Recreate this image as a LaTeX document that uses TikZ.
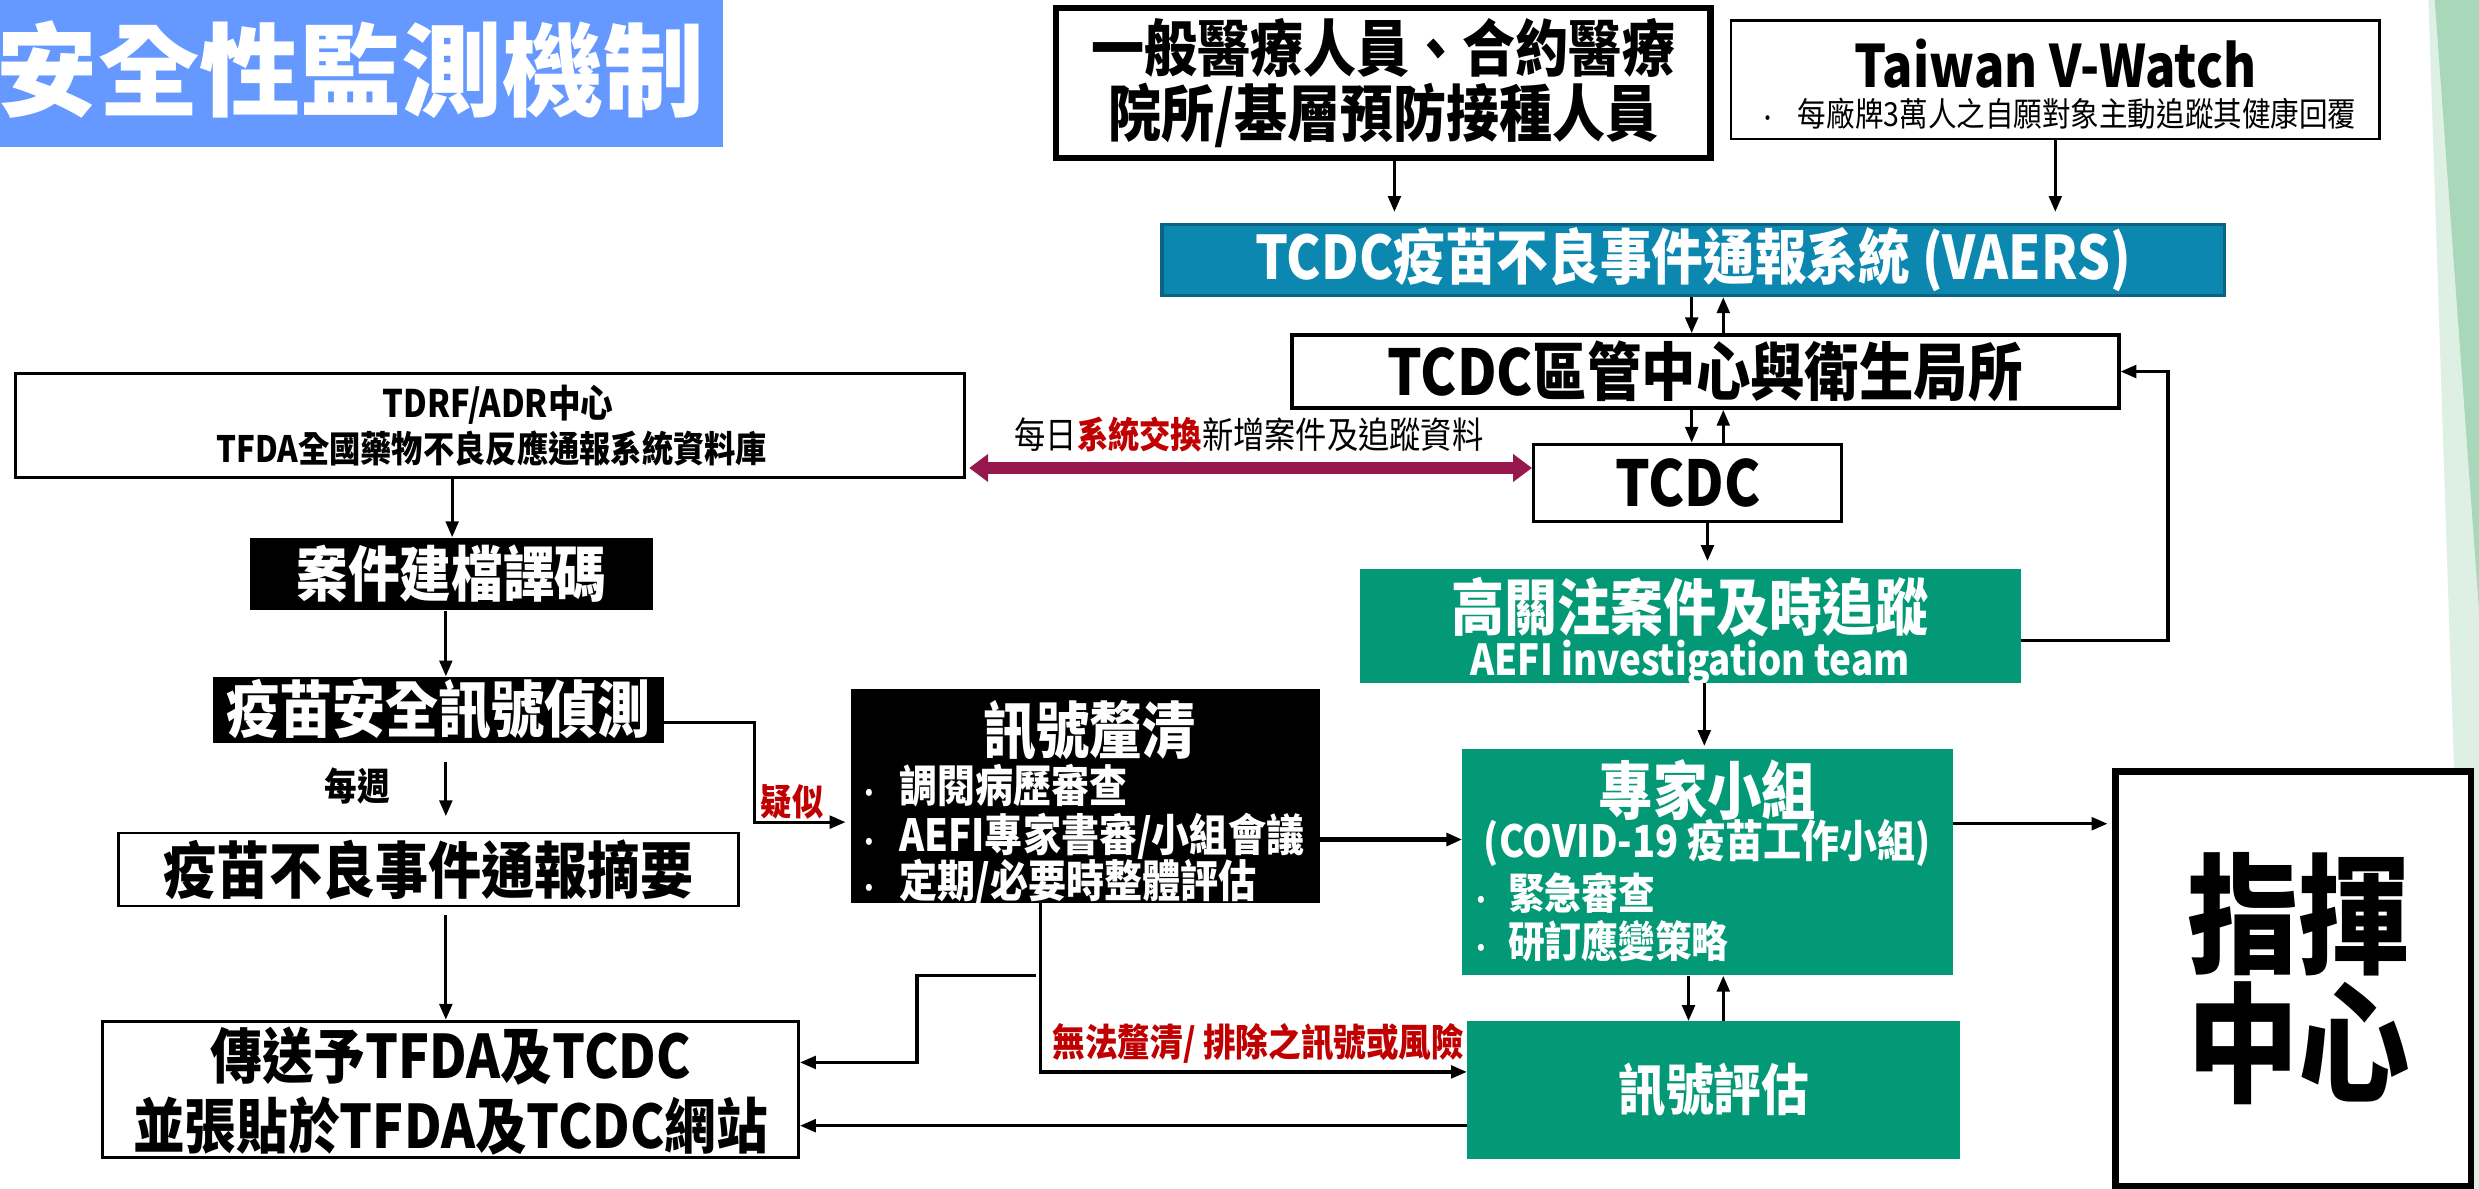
\documentclass[tikz,border=0pt]{standalone}
\usepackage{fontspec}
\setmainfont{Noto Sans CJK TC}[FakeStretch=0.86]
\newfontfamily\widefont{Noto Sans CJK TC}
\usetikzlibrary{arrows.meta,calc}
\newcommand\fsz[2]{\fontsize{#1pt}{#2pt}\selectfont}
\definecolor{titleblue}{RGB}{102,153,255}
\definecolor{vaersblue}{RGB}{11,135,176}
\definecolor{vaersedge}{RGB}{8,100,130}
\definecolor{aefigreen}{RGB}{3,152,118}
\definecolor{xpurple}{RGB}{150,24,78}
\definecolor{xred}{RGB}{192,0,0}
\definecolor{decodark}{RGB}{168,216,185}
\definecolor{decolight}{RGB}{222,240,228}
\tikzset{
  box/.style={draw=black, line width=2pt, fill=white, inner sep=0pt},
  blackbox/.style={fill=black, inner sep=0pt},
  greenbox/.style={fill=aefigreen, inner sep=0pt},
  arr/.style={line width=2pt, -{Triangle[length=10pt,width=8pt]}},
  parr/.style={line width=7pt, xpurple, {Triangle[length=12pt,width=17pt]}-{Triangle[length=12pt,width=17pt]}},
  txt/.style={inner sep=0pt, align=center},
}
\begin{document}
\begin{tikzpicture}[x=1pt,y=-1pt]
\useasboundingbox (0,0) rectangle (1568,752);
\fill[white] (0,0) rectangle (1568,752);
% right decoration
\fill[decolight] (1536,0) -- (1568,0) -- (1568,752) -- (1561,752) -- cycle;
\fill[decodark] (1540,0) -- (1568,0) -- (1568,386) -- cycle;

% title
\node[fill=titleblue, minimum width=457, minimum height=93, inner sep=0pt] (banner) at (228.5,46.5) {};
\node[txt, text=white, font=\widefont\bfseries\fsz{64}{64}] (titletext) at (222,44) {安全性監測機制};

% top boxes
\node[box, line width=4pt, minimum width=414, minimum height=95] (gen) at (875,52.5) {};
\node[txt, font=\bfseries\fsz{39}{41}] (gent) at (875,52.5) {一般醫療人員、合約醫療\\院所/基層預防接種人員};
\node[box, line width=1.5pt, minimum width=410, minimum height=75] (vw) at (1300,50.5) {};
\node[txt, font=\bfseries\fsz{37}{37}] (vwt) at (1300,40) {Taiwan V-Watch};
\node[txt, anchor=west, font=\fsz{21}{21}] (vwb) at (1112,72) {{\fsz{14}{14}•}\hspace{13pt}每廠牌3萬人之自願對象主動追蹤其健康回覆};

\node[fill=vaersblue, draw=vaersedge, line width=2pt, minimum width=672, minimum height=45, inner sep=0pt] (vaers) at (1071,164.5) {};
\node[txt, text=white, font=\bfseries\fsz{38}{38}] (vaerst) at (1071,164.5) {TCDC疫苗不良事件通報系統 (VAERS)};

\node[box, line width=2.5pt, minimum width=523, minimum height=46, font=\bfseries\fsz{40}{40}] (qg) at (1078.5,235) {TCDC區管中心與衛生局所};
\node[box, line width=2pt, minimum width=195, minimum height=49, font=\bfseries\fsz{40}{40}] (tcdc) at (1067.5,305.5) {TCDC};

\node[greenbox, minimum width=418, minimum height=72] (hi) at (1069,396) {};
\node[txt, text=white, font=\bfseries\fsz{39}{39}] (hit1) at (1069,384) {高關注案件及時追蹤};
\node[txt, text=white, font=\bfseries\fsz{27}{27}] (hit2) at (1069,419) {AEFI investigation team};

\node[greenbox, minimum width=310, minimum height=143] (exp) at (1080,545.5) {};
\node[txt, text=white, font=\bfseries\fsz{40}{40}] (expt1) at (1080,500) {專家小組};
\node[txt, text=white, font=\bfseries\fsz{28}{28}] (expt2) at (1080,533) {(COVID-19 疫苗工作小組)};
\node[txt, anchor=west, text=white, font=\bfseries\fsz{27}{27}] (expt3) at (930,565) {{\fsz{16}{16}•}\hspace{10pt}緊急審查};
\node[txt, anchor=west, text=white, font=\bfseries\fsz{27}{27}] (expt4) at (930,595) {{\fsz{16}{16}•}\hspace{10pt}研訂應變策略};

\node[box, line width=4pt, minimum width=225, minimum height=262] (cmd) at (1450.5,619) {};
\node[txt, font=\bfseries\fsz{82}{82}] (cmdt1) at (1454,578) {指揮};
\node[txt, font=\bfseries\fsz{82}{82}] (cmdt2) at (1454,660) {中心};

\node[greenbox, minimum width=312, minimum height=87, text=white, font=\bfseries\fsz{35}{35}] (sig) at (1084,689.5) {訊號評估};

% left column
\node[box, line width=2pt, minimum width=600, minimum height=66] (tdrf) at (310,269) {};
\node[txt, font=\bfseries\fsz{24}{24}] (tdrft1) at (315,256) {TDRF/ADR中心};
\node[txt, font=\bfseries\fsz{23}{23}] (tdrft2) at (311,284) {TFDA全國藥物不良反應通報系統資料庫};

\node[blackbox, minimum width=255, minimum height=46, text=white, font=\bfseries\fsz{38}{38}] (code) at (285.5,363) {案件建檔譯碼};
\node[blackbox, minimum width=285, minimum height=42, text=white, font=\bfseries\fsz{39}{39}] (det) at (277.5,449) {疫苗安全訊號偵測};

\node[blackbox, minimum width=297, minimum height=135] (clar) at (686.5,503.5) {};
\node[txt, text=white, font=\bfseries\fsz{39}{39}] (clart) at (689,462) {訊號釐清};
\node[txt, anchor=west, text=white, font=\bfseries\fsz{28}{28}] (clarb1) at (543,497) {{\fsz{16}{16}•}\hspace{12pt}調閱病歷審查};
\node[txt, anchor=west, text=white, font=\bfseries\fsz{28}{28}] (clarb2) at (543,529) {{\fsz{16}{16}•}\hspace{12pt}AEFI專家書審/小組會議};
\node[txt, anchor=west, text=white, font=\bfseries\fsz{28}{28}] (clarb3) at (543,558) {{\fsz{16}{16}•}\hspace{12pt}定期/必要時整體評估};

\node[box, line width=1.5pt, minimum width=392, minimum height=46, font=\bfseries\fsz{39}{39}] (sum) at (271,550) {疫苗不良事件通報摘要};
\node[box, line width=2pt, minimum width=440, minimum height=86] (send) at (285,689) {};
\node[txt, font=\bfseries\fsz{38}{44}] (sendt) at (285,690) {傳送予TFDA及TCDC\\並張貼於TFDA及TCDC網站};

% connectors
\draw[arr, shorten >=7pt] ([xshift=7]gen.south) -- ([xshift=7]gen.south |- vaers.north);
\draw[arr, shorten >=7pt] (vw.south) -- (vw.south |- vaers.north);
\draw[arr] ([xshift=-1]vaers.south) -- ([xshift=-1]vaers.south |- qg.north);
\draw[arr] ([xshift=11.5]qg.north) -- ([xshift=11.5]qg.north |- vaers.south);
\draw[arr] ([xshift=-8.5]qg.south) -- ([xshift=-8.5]qg.south |- tcdc.north);
\draw[arr] ([xshift=22.5]tcdc.north) -- ([xshift=22.5]tcdc.north |- qg.south);
\draw[arr, shorten >=5pt] ([xshift=12.5]tcdc.south) -- ([xshift=12.5]tcdc.south |- hi.north);
\draw[arr] ([yshift=-9]hi.east) -| ([xshift=30]qg.east) -- (qg.east);
\draw[arr, shorten >=2pt] ([xshift=9]hi.south) -- ([xshift=9]hi.south |- exp.north);
\draw[arr, shorten >=3pt] ([yshift=24.5]exp.east) -- ([yshift=24.5]exp.east -| cmd.west);
\draw[arr] ([xshift=-12]exp.south) -- ([xshift=-12]exp.south |- sig.north);
\draw[arr] ([xshift=6]sig.north) -- ([xshift=6]sig.north |- exp.south);

\draw[parr, shorten <=2pt] ([yshift=-27]tdrf.east) -- ([yshift=-27]tdrf.east -| tcdc.west);
\node[txt, font=\fsz{23}{23}] (xlabel) at (790,275) {每日{\bfseries\color{xred}系統交換}新增案件及追蹤資料};

\draw[arr] ([xshift=-24]tdrf.south) -- ([xshift=-24]tdrf.south |- code.north);
\draw[arr] ([xshift=-3.5]code.south) -- ([xshift=-3.5]code.south |- det.north);
\draw[arr, shorten <=12pt, shorten >=10pt] ([xshift=4.5]det.south) -- ([xshift=4.5]det.south |- sum.north);
\node[txt, font=\bfseries\fsz{24}{24}] (weekly) at (226,497) {每週};
\draw[arr, shorten <=5pt] ([xshift=11]sum.south) -- ([xshift=11]sum.south |- send.north);

\draw[arr, shorten >=3pt] ([yshift=-8]det.east) -- ++(57,0) |- ([yshift=-16.5]clar.west);
\node[txt, text=xred, font=\bfseries\fsz{23}{23}] (yisi) at (501,507) {疑似};
\draw[arr, line width=3pt] ([yshift=-27.5]clar.east) -- ([yshift=-27.5]clar.east -| exp.west);
\draw[arr] ([xshift=-28.5]clar.south) |- ([yshift=11.5]sig.west);
\node[txt, text=xred, font=\bfseries\fsz{24}{24}] (nolabel) at (796,660) {無法釐清/ 排除之訊號或風險};
\path ([xshift=-31.5]clar.south) ++(0,46) coordinate (br);
\draw[arr] (br) -- ++(-75,0) |- ([yshift=17]send.east);
\draw[arr] ([yshift=-22.5]sig.west) -- ([yshift=-22.5]sig.west -| send.east);
\end{tikzpicture}
\end{document}
